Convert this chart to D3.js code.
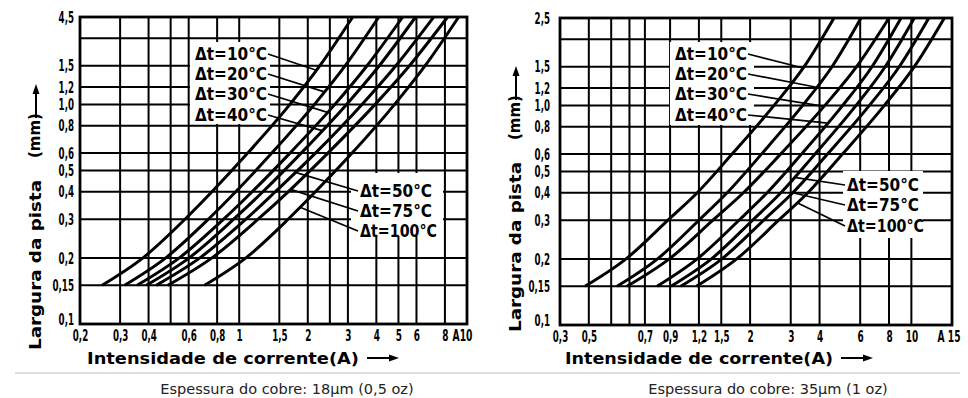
<!DOCTYPE html>
<html>
<head>
<meta charset="utf-8">
<script src="https://cdn.jsdelivr.net/npm/d3@7"></script>
<style>
  body { margin: 0; background: #fff; }
  text { font-family: "DejaVu Sans", sans-serif; }
</style>
</head>
<body>
<svg id="chart"></svg>
<script>
// track width (mm) where each curve was read
var widths = [0.15, 0.2, 0.3, 0.4, 0.6, 1.0, 1.5, 2.5];
var deltaT = ['Δt=10°C', 'Δt=20°C', 'Δt=30°C', 'Δt=40°C', 'Δt=50°C', 'Δt=75°C', 'Δt=100°C'];

// current (A) per curve, one row per Δt, read at the widths above
var current18 = [
  [0.250, 0.378, 0.578, 0.759, 1.09, 1.67, 2.26, 3.15],
  [0.314, 0.476, 0.732, 0.965, 1.39, 2.14, 2.92, 4.10],
  [0.356, 0.546, 0.854, 1.14, 1.67, 2.63, 3.64, 5.22],
  [0.391, 0.603, 0.946, 1.27, 1.87, 2.96, 4.12, 5.95],
  [0.432, 0.672, 1.07, 1.44, 2.16, 3.46, 4.87, 7.14],
  [0.486, 0.759, 1.21, 1.64, 2.45, 3.95, 5.59, 8.22],
  [0.704, 1.07, 1.64, 2.16, 3.13, 4.81, 6.55, 9.19]
];
var current35 = [
  [0.385, 0.580, 0.881, 1.18, 1.67, 2.54, 3.43, 4.62],
  [0.530, 0.794, 1.20, 1.59, 2.24, 3.38, 4.53, 6.05],
  [0.585, 0.893, 1.38, 1.87, 2.71, 4.22, 5.79, 8.00],
  [0.790, 1.18, 1.79, 2.37, 3.34, 5.04, 6.75, 9.02],
  [0.908, 1.36, 2.05, 2.72, 3.82, 5.76, 7.70, 10.3],
  [1.00, 1.51, 2.29, 3.06, 4.33, 6.58, 8.86, 11.9],
  [1.17, 1.75, 2.66, 3.56, 5.03, 7.64, 10.3, 13.9]
];

var gridW = [0.15, 0.2, 0.3, 0.4, 0.5, 0.6, 0.8, 1.0, 1.2, 1.5, 2.0];
var gridI18 = [0.3, 0.4, 0.5, 0.6, 0.8, 1, 1.5, 2, 2.5, 3, 4, 5, 6, 8];
var gridI35 = [0.4, 0.5, 0.6, 0.7, 0.9, 1.2, 1.5, 2, 3, 4, 6, 8, 10];

var yTickW = [0.1, 0.15, 0.2, 0.3, 0.4, 0.5, 0.6, 0.8, 1.0, 1.2, 1.5, 2.5];
var yText18 = ['0,1', '0,15', '0,2', '0,3', '0,4', '0,5', '0,6', '0,8', '1,0', '1,2', '1,5', '4,5'];
var yText35 = ['0,1', '0,15', '0,2', '0,3', '0,4', '0,5', '0,6', '0,8', '1,0', '1,2', '1,5', '2,5'];

var xTick18 = [0.2, 0.3, 0.4, 0.6, 0.8, 1, 1.5, 2, 3, 4, 5, 6, 8, 10];
var xText18 = ['0,2', '0,3', '0,4', '0,6', '0,8', '1', '1,5', '2', '3', '4', '5', '6', '8', 'A10'];
var xTick35 = [0.3, 0.4, 0.7, 0.9, 1.2, 1.5, 2, 3, 4, 6, 8, 10, 15];
var xText35 = ['0,3', '0,5', '0,7', '0,9', '1,2', '1,5', '2', '3', '4', '6', '8', '10', 'A 15'];

// width at which each label's leader touches its curve
var leaderW18 = [1.43, 1.14, 0.92, 0.76, 0.49, 0.41, 0.34];
var leaderW35 = [1.48, 1.21, 0.99, 0.83, 0.47, 0.40, 0.36];

var captions = ['Espessura do cobre: 18µm (0,5 oz)', 'Espessura do cobre: 35µm (1 oz)'];

var svg = d3.select('#chart')
  .attr('width', 968)
  .attr('height', 398)
  .style('background-color', '#fff');

// rough widths so the condensed scan lettering can be squeezed
function labelWidth(s) {
  var w = 0;
  for (var i = 0; i < s.length; i++) {
    var ch = s[i];
    if (ch === ',') w += 3;
    else if (ch === ' ') w += 3;
    else if (ch === 'A') w += 7.5;
    else w += 6.2;
  }
  return w;
}

function curveX(row, w) {
  for (var i = 0; i < widths.length - 1; i++) {
    if (w >= widths[i] && w <= widths[i + 1]) {
      var t = (Math.log(w) - Math.log(widths[i])) / (Math.log(widths[i + 1]) - Math.log(widths[i]));
      return Math.exp(Math.log(row[i]) + t * (Math.log(row[i + 1]) - Math.log(row[i])));
    }
  }
  return row[0];
}

function drawChart(c) {
  var x = d3.scaleLog().domain(c.xDomain).range([c.left, c.right]);
  var y = d3.scaleLog().domain([0.1, 2.5]).range([c.bottom, c.top]);
  var g = svg.append('g');

  g.append('g').selectAll('line')
    .data(c.gridI)
    .enter().append('line')
      .attr('x1', d => x(d)).attr('x2', d => x(d))
      .attr('y1', c.top).attr('y2', c.bottom)
      .attr('stroke', '#000').attr('stroke-width', 2);

  g.append('g').selectAll('line')
    .data(gridW)
    .enter().append('line')
      .attr('x1', c.left).attr('x2', c.right)
      .attr('y1', d => y(d)).attr('y2', d => y(d))
      .attr('stroke', '#000').attr('stroke-width', 2);

  g.append('rect')
    .attr('x', c.left).attr('y', c.top)
    .attr('width', c.right - c.left).attr('height', c.bottom - c.top)
    .attr('fill', 'none').attr('stroke', '#000').attr('stroke-width', 2.8);

  // white boxes behind the labels
  c.boxes.forEach(function(b) {
    g.append('rect')
      .attr('x', b[0]).attr('y', b[1]).attr('width', b[2]).attr('height', b[3])
      .attr('fill', '#fff');
  });

  var line = d3.line()
    .x(d => x(d[0]))
    .y(d => y(d[1]))
    .curve(d3.curveMonotoneX);

  g.append('g').selectAll('path')
    .data(c.currents)
    .enter().append('path')
      .attr('d', row => line(row.map((v, i) => [v, widths[i]])))
      .attr('fill', 'none')
      .attr('stroke', '#000')
      .attr('stroke-width', 3);

  // labels and leaders
  deltaT.forEach(function(lbl, i) {
    var upper = i < 4;
    var tx = upper ? c.upperX : c.lowerX;
    var ty = upper ? c.upperY[i] : c.lowerY[i - 4];
    var tw = lbl.length > 7 ? c.labelW + 5 : c.labelW;
    g.append('text')
      .attr('x', tx).attr('y', ty)
      .attr('font-size', 17).attr('font-weight', 'bold')
      .attr('textLength', tw).attr('lengthAdjust', 'spacingAndGlyphs')
      .text(lbl);
    var w = c.leaderW[i];
    var cx = x(curveX(c.currents[i], w));
    var cy = y(w);
    g.append('line')
      .attr('x1', upper ? tx + tw + 1 : tx - 2)
      .attr('y1', ty - 6)
      .attr('x2', cx).attr('y2', cy)
      .attr('stroke', '#000').attr('stroke-width', 1.7);
  });

  // y tick labels
  var yAxis = d3.axisLeft(y)
    .tickValues(yTickW)
    .tickSize(0)
    .tickPadding(c.yPad)
    .tickFormat((d, i) => c.yText[i]);
  var ya = g.append('g').attr('transform', 'translate(' + c.left + ',0)').call(yAxis);
  ya.select('.domain').remove();
  ya.selectAll('text')
    .attr('font-family', '"DejaVu Sans", sans-serif')
    .attr('font-size', 16).attr('font-weight', 'bold').attr('fill', '#000')
    .attr('textLength', function() { return labelWidth(this.textContent); })
    .attr('lengthAdjust', 'spacingAndGlyphs');
  ya.selectAll('.tick').filter(d => d === 0.1).select('text').attr('dy', '0.05em');

  // x tick labels
  var xAxis = d3.axisBottom(x)
    .tickValues(c.xTicks)
    .tickSize(0)
    .tickPadding(6)
    .tickFormat((d, i) => c.xText[i]);
  var xa = g.append('g').attr('transform', 'translate(0,' + c.bottom + ')').call(xAxis);
  xa.select('.domain').remove();
  xa.selectAll('text')
    .attr('font-family', '"DejaVu Sans", sans-serif')
    .attr('font-size', 16).attr('font-weight', 'bold').attr('fill', '#000')
    .attr('textLength', function() { return labelWidth(this.textContent); })
    .attr('lengthAdjust', 'spacingAndGlyphs');
  xa.selectAll('.tick').filter((d, i) => i === c.xTicks.length - 1).select('text')
    .attr('text-anchor', 'end').attr('dx', c.lastDx);

  // axis titles
  g.append('text')
    .attr('transform', 'translate(' + c.yTitleX + ',' + c.yTitleStart + ') rotate(-90)')
    .attr('font-size', 16).attr('font-weight', 'bold')
    .attr('textLength', 170).attr('lengthAdjust', 'spacingAndGlyphs')
    .text('Largura da pista');
  g.append('text')
    .attr('transform', 'translate(' + (c.yTitleX - 1) + ',' + (c.yTitleStart - 192) + ') rotate(-90)')
    .attr('font-size', 15).attr('font-weight', 'bold')
    .text('(mm)');
  var ax = c.yTitleX - 5;
  var ay = c.yTitleStart - 232;
  g.append('line')
    .attr('x1', ax).attr('x2', ax).attr('y1', ay).attr('y2', ay - 30)
    .attr('stroke', '#000').attr('stroke-width', 2);
  g.append('path')
    .attr('d', 'M' + (ax - 3.5) + ',' + (ay - 24) + 'L' + ax + ',' + (ay - 34) + 'L' + (ax + 3.5) + ',' + (ay - 24) + 'Z')
    .attr('fill', '#000');

  g.append('text')
    .attr('x', c.xTitleStart).attr('y', 364)
    .attr('font-size', 16).attr('font-weight', 'bold')
    .attr('textLength', c.xTitleLen).attr('lengthAdjust', 'spacingAndGlyphs')
    .text('Intensidade de corrente(A)');
  var bx = c.xTitleStart + c.xTitleLen + 8;
  g.append('line')
    .attr('x1', bx).attr('x2', bx + 26).attr('y1', 358).attr('y2', 358)
    .attr('stroke', '#000').attr('stroke-width', 2);
  g.append('path')
    .attr('d', 'M' + (bx + 22) + ',354.5L' + (bx + 32) + ',358L' + (bx + 22) + ',361.5Z')
    .attr('fill', '#000');

  svg.append('text')
    .attr('x', c.captionX).attr('y', 394)
    .attr('text-anchor', 'middle')
    .attr('font-family', '"Open Sans", "Noto Sans", sans-serif')
    .attr('font-size', 14.5).attr('fill', '#222')
    .text(c.caption);
}

drawChart({
  left: 80, right: 467, top: 17, bottom: 324,
  xDomain: [0.2, 10],
  gridI: gridI18, currents: current18, leaderW: leaderW18,
  xTicks: xTick18, xText: xText18, yText: yText18,
  yPad: 6, lastDx: 5,
  boxes: [[190, 42, 80, 82], [351, 173, 92, 63]],
  upperX: 195, upperY: [60, 80, 100, 121],
  lowerX: 360, lowerY: [197, 217, 237],
  labelW: 72,
  yTitleX: 41, yTitleStart: 350,
  xTitleStart: 87, xTitleLen: 272,
  captionX: 287, caption: captions[0]
});

drawChart({
  left: 560, right: 952, top: 18, bottom: 325,
  xDomain: [0.3, 15],
  gridI: gridI35, currents: current35, leaderW: leaderW35,
  xTicks: xTick35, xText: xText35, yText: yText35,
  yPad: 10, lastDx: 8,
  boxes: [[670, 42, 84, 83], [843, 171, 80, 67]],
  upperX: 675, upperY: [60, 80, 100, 121],
  lowerX: 847, lowerY: [191, 211, 232],
  labelW: 72,
  yTitleX: 521, yTitleStart: 332,
  xTitleStart: 565, xTitleLen: 268,
  captionX: 768, caption: captions[1]
});

svg.append('line')
  .attr('x1', 15).attr('x2', 960)
  .attr('y1', 373).attr('y2', 373)
  .attr('stroke', '#d4d4d4').attr('stroke-width', 1.5);
</script>
</body>
</html>
